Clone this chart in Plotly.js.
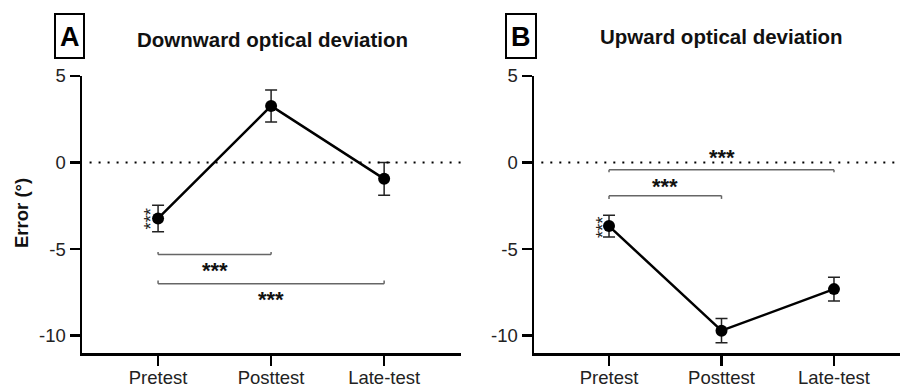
<!DOCTYPE html>
<html>
<head>
<meta charset="utf-8">
<script src="https://cdn.plot.ly/plotly-3.0.1.min.js"></script>
<style>html,body{margin:0;padding:0;background:#fff;}#chart{width:900px;height:384px;}</style>
</head>
<body>
<div id="chart"></div>
<script>
const categories = ["Pretest", "Posttest", "Late-test"];
const downwardMean = [-3.23, 3.27, -0.94];
const downwardSEM = [0.77, 0.92, 0.95];
const upwardMean = [-3.67, -9.71, -7.31];
const upwardSEM = [0.63, 0.70, 0.69];
const panelTitles = ["Downward optical deviation", "Upward optical deviation"];
const panelLetters = ["A", "B"];
const yTickVals = [5, 0, -5, -10];
const yTitle = "Error (°)";
const sigLabel = "***";
// significance comparisons: [fromIndex, toIndex]
const downwardComparisons = [[0, 1], [0, 2]];
const upwardComparisons = [[0, 2], [0, 1]];

const FONT = "Liberation Sans, Arial, sans-serif";
const W = 900, H = 384;
const px = v => v / W;
const py = v => 1 - v / H;

function trace(mean, sem, xa, ya) {
  return {
    type: "scatter", mode: "lines+markers",
    x: categories, y: mean, xaxis: xa, yaxis: ya,
    line: {color: "#000", width: 2.5},
    marker: {color: "#000", size: 12},
    error_y: {type: "data", array: sem, visible: true, color: "#222", thickness: 1.5, width: 6},
    showlegend: false, hoverinfo: "skip"
  };
}

const data = [
  trace(downwardMean, downwardSEM, "x", "y"),
  trace(upwardMean, upwardSEM, "x2", "y2")
];

const yDomain = [py(353), py(76)];
function xAxis(domain, range) {
  return {
    domain: domain, range: range, type: "category", categoryorder: "array", categoryarray: categories,
    showline: true, linecolor: "#000", linewidth: 2.5, mirror: false,
    ticks: "outside", ticklen: 10, tickwidth: 2.5, tickcolor: "#000", ticklabelstandoff: -4,
    showgrid: false, zeroline: false, fixedrange: true,
    tickfont: {family: FONT, size: 18.5, color: "#222"}
  };
}
function yAxis(anchor) {
  return {
    domain: yDomain, range: [-11, 5], anchor: anchor,
    tickvals: yTickVals, ticktext: yTickVals.map(String),
    showline: true, linecolor: "#000", linewidth: 2.5,
    ticks: "outside", ticklen: 10, tickwidth: 2.5, tickcolor: "#000",
    showgrid: false, zeroline: false, fixedrange: true,
    tickfont: {family: FONT, size: 18.5, color: "#222"}
  };
}

const shapes = [];
const annotations = [];

// zero dotted lines
[["x", "y"], ["x2", "y2"]].forEach(([xa, ya]) => {
  shapes.push({type: "line", xref: xa + " domain", yref: ya, x0: 0.02, x1: 1, y0: 0, y1: 0,
    line: {color: "#000", width: 2, dash: "2px,7px"}});
});

function bracket(xa, ya, i0, i1, yLine, yTip, yText) {
  const s = {type: "line", xref: xa, yref: ya, line: {color: "#666", width: 1.5}};
  shapes.push(Object.assign({}, s, {x0: i0, x1: i1, y0: yLine, y1: yLine}));
  shapes.push(Object.assign({}, s, {x0: i0, x1: i0, y0: yLine, y1: yTip}));
  shapes.push(Object.assign({}, s, {x0: i1, x1: i1, y0: yLine, y1: yTip}));
  annotations.push({xref: xa, yref: ya, x: (i0 + i1) / 2, y: yText, yshift: -2, text: sigLabel, showarrow: false,
    xanchor: "center", yanchor: "middle",
    font: {family: FONT, size: 22, color: "#111", weight: "bold"}});
}

// Panel A brackets (below the data)
bracket("x", "y", downwardComparisons[0][0], downwardComparisons[0][1], -5.31, -5.17, -6.12);
bracket("x", "y", downwardComparisons[1][0], downwardComparisons[1][1], -7.0, -6.81, -7.77);
// Panel B brackets (above the data)
bracket("x2", "y2", upwardComparisons[0][0], upwardComparisons[0][1], -0.42, -0.56, 0.42);
bracket("x2", "y2", upwardComparisons[1][0], upwardComparisons[1][1], -1.91, -2.1, -1.25);

// rotated stars next to pretest
annotations.push({xref: "x", yref: "y", x: categories[0], y: downwardMean[0], text: sigLabel, showarrow: false,
  xanchor: "center", yanchor: "middle",
  textangle: -90, xshift: -8, font: {family: FONT, size: 18.5, color: "#222"}});
annotations.push({xref: "x2", yref: "y2", x: categories[0], y: upwardMean[0], text: sigLabel, showarrow: false,
  xanchor: "center", yanchor: "middle",
  textangle: -90, xshift: -7, yshift: -1, font: {family: FONT, size: 18.5, color: "#222"}});

// panel titles
annotations.push({xref: "paper", yref: "paper", x: px(272), y: py(39), text: panelTitles[0], showarrow: false,
  xanchor: "center", yanchor: "middle",
  font: {family: FONT, size: 20.5, color: "#111", weight: "bold"}});
annotations.push({xref: "paper", yref: "paper", x: px(721), y: py(37), text: panelTitles[1], showarrow: false,
  xanchor: "center", yanchor: "middle",
  font: {family: FONT, size: 20.5, color: "#111", weight: "bold"}});

// panel letters with boxes
[[55, 84, 69.5], [506, 536, 521]].forEach(([l, r, c], i) => {
  shapes.push({type: "rect", xref: "paper", yref: "paper", x0: px(l), x1: px(r), y0: py(58), y1: py(14),
    line: {color: "#000", width: 2}, fillcolor: "rgba(0,0,0,0)"});
  annotations.push({xref: "paper", yref: "paper", x: px(c), y: py(37), text: panelLetters[i], showarrow: false,
    xanchor: "center", yanchor: "middle",
    font: {family: FONT, size: 27, color: "#000", weight: "bold"}});
});

// y-axis title
annotations.push({xref: "paper", yref: "paper", x: px(21), y: py(213), text: yTitle, showarrow: false,
  xanchor: "center", yanchor: "middle",
  textangle: -90, font: {family: FONT, size: 18.5, color: "#111", weight: "bold"}});

const layout = {
  width: W, height: H,
  margin: {l: 0, r: 0, t: 0, b: 0},
  paper_bgcolor: "#fff", plot_bgcolor: "#fff",
  font: {family: FONT},
  xaxis: xAxis([px(82), px(461)], [-0.673, 2.68]),
  yaxis: yAxis("x"),
  xaxis2: Object.assign(xAxis([px(534), 1], [-0.667, 2.587]), {anchor: "y2"}),
  yaxis2: yAxis("x2"),
  shapes: shapes,
  annotations: annotations,
  showlegend: false
};
layout.xaxis.anchor = "y";

Plotly.newPlot("chart", data, layout, {staticPlot: true, displayModeBar: false});
</script>
</body>
</html>
